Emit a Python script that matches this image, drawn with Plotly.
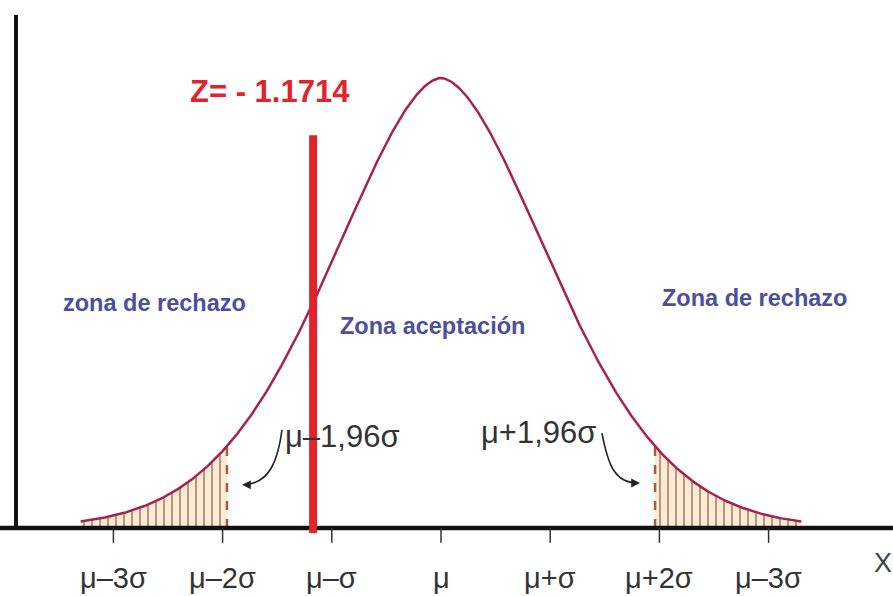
import numpy as np
import plotly.graph_objects as go

# Bell curve in units of sigma from the mean, two-tailed test at 5 %
z_stat = -1.1714          # observed statistic
z_crit = 1.96             # critical value for alpha = 0.05
curve_span = 3.3          # curve drawn from -3.3 sigma to +3.3 sigma
bell_scale = 1.445        # width of the bell
bell_shape = 1.75         # exponent of the bell profile

tick_values = [-3, -2, -1, 0, 1, 2, 3]
tick_labels = ["μ–3σ", "μ–2σ", "μ–σ", "μ", "μ+σ", "μ+2σ", "μ–3σ"]

zone_labels = ["zona de rechazo", "Zona aceptación", "Zona de rechazo"]
zone_x = [-2.62, -0.08, 2.87]
zone_y = [0.50, 0.449, 0.511]

CURVE = "#a8224f"
HATCH = "#6e3a2c"
FILL = "#fcead3"
RED = "#e2232a"
ZONE = "#4b4f9e"
TXT = "#333333"

X_RANGE = [-4.0385, 4.1392]
Y_RANGE = [-0.1511, 1.1733]


def bell(z):
    return np.exp(-(np.abs(np.asarray(z)) / bell_scale) ** bell_shape)


z = np.linspace(-curve_span, curve_span, 661)
h = bell(z)

fig = go.Figure()

# hatched rejection regions
for lo, hi in [(-curve_span, -z_crit), (z_crit, curve_span)]:
    zt = np.linspace(lo, hi, 150)
    fig.add_trace(go.Scatter(
        x=zt, y=bell(zt), mode="lines", line=dict(width=0),
        fill="tozeroy", fillcolor=FILL,
        fillpattern=dict(shape="|", fgcolor=HATCH, bgcolor=FILL, size=8, solidity=0.24),
        hoverinfo="skip"))

# dashed critical-value lines
for zc in (-z_crit, z_crit):
    fig.add_trace(go.Scatter(x=[zc, zc], y=[0, float(bell(zc))], mode="lines",
                             line=dict(color="#a0603f", width=2.5, dash="dash"),
                             hoverinfo="skip"))

# bell curve
fig.add_trace(go.Scatter(x=z, y=h, mode="lines", line=dict(color=CURVE, width=2.5),
                         hoverinfo="skip"))

shapes = []
# axes
shapes.append(dict(type="line", x0=X_RANGE[0], x1=X_RANGE[1], y0=0, y1=0,
                   line=dict(color="#111111", width=4.5)))
shapes.append(dict(type="line", x0=-3.892, x1=-3.892, y0=0, y1=1.14,
                   line=dict(color="#111111", width=4)))
# tick marks
for tv in tick_values:
    shapes.append(dict(type="line", x0=tv, x1=tv, y0=0, y1=-0.033,
                       line=dict(color=TXT, width=1.5)))
# test statistic line
shapes.append(dict(type="line", x0=z_stat, x1=z_stat, y0=-0.011, y1=0.873,
                   line=dict(color=RED, width=8)))
# curved pointers to the critical values
shapes.append(dict(type="path",
                   path="M -1.456 0.218 C -1.493 0.151, -1.566 0.100, -1.80 0.096",
                   line=dict(color="#222222", width=1.6)))
shapes.append(dict(type="path",
                   path="M 1.474 0.211 C 1.529 0.140, 1.593 0.100, 1.80 0.100",
                   line=dict(color="#222222", width=1.6)))

annotations = []
for xa, ya, dx in [(-1.822, 0.096, 0.06), (1.822, 0.100, -0.06)]:
    annotations.append(dict(x=xa, y=ya, ax=xa + dx, ay=ya, xref="x", yref="y",
                            axref="x", ayref="y", text="", showarrow=True,
                            arrowhead=2, arrowsize=1.1, arrowwidth=1.6,
                            arrowcolor="#222222", standoff=0, startstandoff=0))

for tv, tl in zip(tick_values, tick_labels):
    annotations.append(dict(x=tv, y=-0.111, text=tl, showarrow=False,
                            font=dict(family="Liberation Sans", size=29, color=TXT)))

for zl, zx, zy in zip(zone_labels, zone_x, zone_y):
    annotations.append(dict(x=zx, y=zy, text=f"<b>{zl}</b>", showarrow=False,
                            font=dict(family="Liberation Sans", size=23.5, color=ZONE)))

annotations.append(dict(x=-1.566, y=0.969, text=f"<b>Z= - {abs(z_stat):.4f}</b>",
                        showarrow=False,
                        font=dict(family="Liberation Sans", size=31, color=RED)))
annotations.append(dict(x=-1.447, y=0.204, xanchor="left", text="μ–1,96σ",
                        showarrow=False,
                        font=dict(family="Liberation Sans", size=31, color=TXT)))
annotations.append(dict(x=1.438, y=0.213, xanchor="right", text="μ+1,96σ",
                        showarrow=False,
                        font=dict(family="Liberation Sans", size=31, color=TXT)))
annotations.append(dict(x=4.05, y=-0.078, text="X", showarrow=False,
                        font=dict(family="Liberation Sans", size=27, color="#444444")))

fig.update_layout(
    width=893, height=596,
    margin=dict(l=0, r=0, t=0, b=0),
    paper_bgcolor="white", plot_bgcolor="white",
    showlegend=False,
    xaxis=dict(range=X_RANGE, visible=False, fixedrange=True),
    yaxis=dict(range=Y_RANGE, visible=False, fixedrange=True),
    shapes=shapes,
    annotations=annotations,
)

fig.write_html("out.html")
